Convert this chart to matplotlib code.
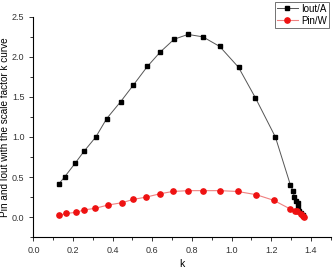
import matplotlib
matplotlib.use("Agg")
import matplotlib.pyplot as plt
from matplotlib.ticker import MultipleLocator

# Iout/A
k_iout = [0.127, 0.157, 0.21, 0.255, 0.315, 0.37, 0.44, 0.505, 0.575, 0.64, 0.71, 0.78,
          0.855, 0.94, 1.035, 1.12, 1.221, 1.297, 1.31, 1.317, 1.326, 1.334, 1.336, 1.34,
          1.349, 1.358]
iout = [0.41, 0.50, 0.67, 0.82, 1.00, 1.23, 1.44, 1.65, 1.88, 2.06, 2.22, 2.28,
        2.25, 2.13, 1.87, 1.49, 1.00, 0.40, 0.33, 0.25, 0.20, 0.17, 0.12, 0.08,
        0.05, 0.02]

# Pin/W
k_pin = [0.127, 0.166, 0.216, 0.257, 0.313, 0.375, 0.448, 0.502, 0.57, 0.637, 0.703,
         0.781, 0.854, 0.942, 1.03, 1.124, 1.212, 1.297, 1.319, 1.33, 1.348, 1.358, 1.363]
pin = [0.02, 0.045, 0.06, 0.09, 0.11, 0.15, 0.18, 0.22, 0.25, 0.29, 0.32,
       0.33, 0.33, 0.33, 0.32, 0.28, 0.21, 0.10, 0.08, 0.07, 0.04, 0.01, 0.0]

plt.rcParams['font.family'] = ['Liberation Sans', 'DejaVu Sans']

fig = plt.figure(figsize=(3.34, 2.71), dpi=100)
ax = fig.add_axes([0.1, 0.125, 0.89, 0.813])

ax.plot(k_iout, iout, color="#555555", lw=0.7, marker="s", ms=3.4,
        mfc="black", mec="black", label="Iout/A")
ax.plot(k_pin, pin, color="#f08080", lw=0.8, marker="o", ms=3.8,
        mfc="#ee1111", mec="#ee1111", label="Pin/W")

ax.set_xlim(0, 1.5)
ax.set_ylim(-0.25, 2.5)
ax.xaxis.set_major_locator(MultipleLocator(0.2))
ax.xaxis.set_minor_locator(MultipleLocator(0.1))
ax.yaxis.set_major_locator(MultipleLocator(0.5))
ax.yaxis.set_minor_locator(MultipleLocator(0.25))
ax.set_xticks([0, 0.2, 0.4, 0.6, 0.8, 1.0, 1.2, 1.4])
ax.spines["top"].set_visible(False)
ax.spines["right"].set_visible(False)
ax.tick_params(which="both", direction="out", labelsize=6.5, width=0.7, colors="#333333")
ax.tick_params(which="major", length=3)
ax.tick_params(which="minor", length=2)
ax.set_xlabel("k", fontsize=7.5, labelpad=3)
ax.set_ylabel("Pin and Iout with the scale factor k curve", fontsize=7.2, labelpad=1)

leg = ax.legend(loc="upper right", bbox_to_anchor=(1.01, 1.09), fontsize=7,
                frameon=True, fancybox=False, edgecolor="#333333", borderpad=0.2,
                handlelength=2.2, handletextpad=0.3, labelspacing=0.2)
leg.get_frame().set_linewidth(0.6)

fig.savefig("out.png", dpi=100)
